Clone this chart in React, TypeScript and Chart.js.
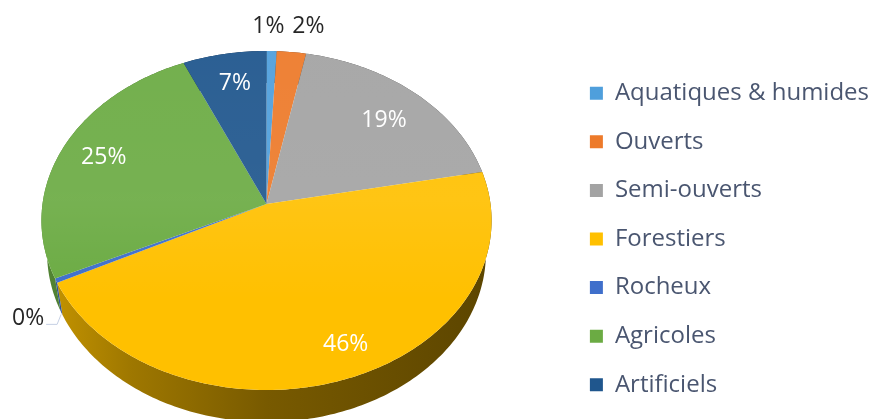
import React, { useEffect, useRef } from "react";
import { Chart, registerables } from "chart.js";

Chart.register(...registerables);

const categories = ["Aquatiques & humides", "Ouverts", "Semi-ouverts", "Forestiers", "Rocheux", "Agricoles", "Artificiels"];
const shares = [0.8, 2.3, 18.8, 45.7, 0.4, 25.4, 6.6];
const sliceColors = ["#4f9fdc", "#ed7a2a", "#a3a3a3", "#ffc000", "#3f6fcb", "#6bab43", "#1f568d"];
const labelRadius = [1.18, 1.2, 0.76, 0.84, 1.185, 0.8, 0.79];
const labelAngleShift = [-1, 3, 1.5, -4, -6.7, 0.5, 0.8];
const labelColors = ["#262626", "#262626", "#ffffff", "#ffffff", "#262626", "#ffffff", "#ffffff"];

// perspective of the tilted disc
const CX = 266.5, CY = 204, R = 224, K = -0.0973, YSCALE = 167.9, DEPTH = 32, LOWER_SHRINK = 0.975;
const project = (u: number, v: number, drop = 0, shrink = 1) => {
  const d = 1 + K * v;
  return { x: CX + (R * shrink * u) / d, y: CY + (YSCALE * v) / d + drop };
};

const hexToRgb = (h: string) => [1, 3, 5].map((i) => parseInt(h.slice(i, i + 2), 16));
const shade = (h: string, f: number) => {
  const [r, g, b] = hexToRgb(h);
  return `rgb(${Math.round(r * f)},${Math.round(g * f)},${Math.round(b * f)})`;
};

const arcPoints = (a0: number, a1: number, drop = 0, shrink = 1) => {
  const n = Math.max(2, Math.ceil(((a1 - a0) * 180) / Math.PI));
  const pts = [];
  for (let i = 0; i <= n; i++) {
    const a = a0 + ((a1 - a0) * i) / n;
    pts.push(project(Math.cos(a), Math.sin(a), drop, shrink));
  }
  return pts;
};

const tiltedPie = {
  id: "tiltedPie",
  beforeDatasetsDraw(chart: any) {
    const ctx = chart.ctx;
    const arcs = chart.getDatasetMeta(0).data;
    ctx.save();
    // side wall
    arcs.forEach((arc: any) => {
      const base = arc.options.backgroundColor;
      const top = arcPoints(arc.startAngle, arc.endAngle);
      const low = arcPoints(arc.startAngle, arc.endAngle, DEPTH, LOWER_SHRINK).reverse();
      const g = ctx.createLinearGradient(CX - R, 0, CX + R, 0);
      g.addColorStop(0, shade(base, 0.78));
      g.addColorStop(0.2, shade(base, 0.62));
      g.addColorStop(0.5, shade(base, 0.47));
      g.addColorStop(1, shade(base, 0.36));
      ctx.beginPath();
      [...top, ...low].forEach((p, i) => (i ? ctx.lineTo(p.x, p.y) : ctx.moveTo(p.x, p.y)));
      ctx.closePath();
      ctx.fillStyle = g;
      ctx.fill();
    });
    // top face
    arcs.forEach((arc: any) => {
      const pts = arcPoints(arc.startAngle, arc.endAngle);
      const c = project(0, 0);
      ctx.beginPath();
      ctx.moveTo(c.x, c.y);
      pts.forEach((p) => ctx.lineTo(p.x, p.y));
      ctx.closePath();
      ctx.fillStyle = arc.options.backgroundColor;
      ctx.fill();
      const sheen = ctx.createLinearGradient(0, 50, 0, 300);
      sheen.addColorStop(0, "rgba(255,255,255,0.06)");
      sheen.addColorStop(0.6, "rgba(255,255,255,0.08)");
      sheen.addColorStop(1, "rgba(255,255,255,0)");
      ctx.fillStyle = sheen;
      ctx.fill();
    });
    // labels
    const total = shares.reduce((s, v) => s + v, 0);
    ctx.font = '23px "Open Sans"';
    ctx.textAlign = "center";
    ctx.textBaseline = "middle";
    arcs.forEach((arc: any, i: number) => {
      const mid = (arc.startAngle + arc.endAngle) / 2 + (labelAngleShift[i] * Math.PI) / 180;
      const r = labelRadius[i];
      const p = project(r * Math.cos(mid), r * Math.sin(mid));
      if (categories[i] === "Rocheux") {
        ctx.strokeStyle = "#c6d0e4";
        ctx.lineWidth = 1;
        ctx.beginPath();
        ctx.moveTo(p.x + 18, p.y + 6);
        ctx.lineTo(p.x + 29, p.y + 6);
        ctx.lineTo(p.x + 33, p.y - 4);
        ctx.stroke();
      }
      ctx.fillStyle = labelColors[i];
      ctx.fillText(`${Math.round((shares[i] / total) * 100)}%`, p.x, p.y);
    });
    ctx.restore();
    return false;
  },
};

export default function App() {
  const ref = useRef<HTMLCanvasElement>(null);
  useEffect(() => {
    const chart = new Chart(ref.current!, {
      type: "pie",
      data: {
        labels: categories,
        datasets: [{ data: shares, backgroundColor: sliceColors, borderWidth: 0 }],
      },
      options: {
        responsive: false,
        animation: false,
        events: [],
        layout: { padding: { top: 55, right: -5, bottom: -4, left: 0 } },
        plugins: {
          tooltip: { enabled: false },
          legend: {
            position: "right",
            labels: {
              boxWidth: 13,
              boxHeight: 13,
              padding: 24.6,
              color: "#4a5670",
              font: { family: '"Open Sans"', size: 24 },
            },
          },
        },
      },
      plugins: [tiltedPie],
    } as any);
    return () => chart.destroy();
  }, []);
  return (
    <canvas
      ref={ref}
      width={874}
      height={419}
      style={{ position: "fixed", left: 0, top: 0, width: 874, height: 419, display: "block", filter: "blur(0.5px)" }}
    />
  );
}
